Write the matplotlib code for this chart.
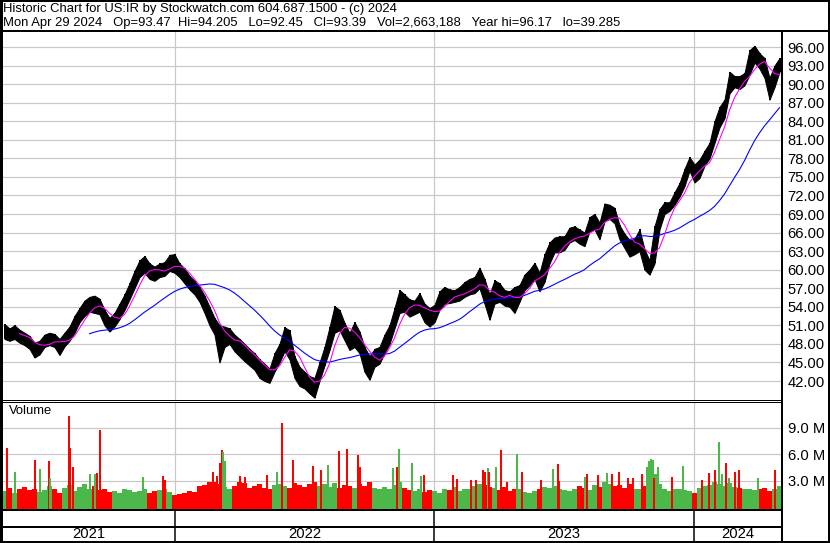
import numpy as np
import pandas as pd
import matplotlib
matplotlib.use('Agg')
import matplotlib.pyplot as plt
from matplotlib.lines import Line2D

plt.rcParams['font.family'] = ['Liberation Sans', 'DejaVu Sans']

W, H = 830, 543   # picture size in px

# weekly high / low of US:IR, Apr 2021 -> Apr 2024 (156 weeks)
hi = [
    51.2, 50.5, 51.0, 50.3, 49.8, 49.3, 48.2, 48.5, 49.5, 49.8,
    49.6, 48.8, 49.8, 50.8, 52.5, 53.8, 55.0, 55.6, 55.8, 55.3,
    53.5, 52.2, 53.0, 54.5, 56.0, 57.8, 59.8, 61.5, 62.2, 61.0,
    60.5, 61.0, 61.2, 62.4, 62.5, 61.0, 60.2, 59.0, 58.2, 57.2,
    55.8, 54.0, 52.2, 51.0, 50.8, 50.5, 49.5, 48.8, 48.0, 47.2,
    46.5, 45.5, 44.8, 44.0, 46.5, 48.0, 50.7, 50.2, 46.0, 44.3,
    43.5, 42.8, 42.5, 45.0, 47.5, 50.7, 54.1, 53.5, 51.4, 49.8,
    51.5, 50.0, 47.5, 46.0, 47.2, 47.5, 49.5, 51.0, 53.8, 56.7,
    56.0, 55.2, 55.0, 56.2, 54.5, 53.8, 54.3, 56.5, 57.2, 56.8,
    56.7, 57.2, 58.0, 58.5, 58.8, 60.3, 58.5, 56.0, 58.3, 57.8,
    56.7, 56.5, 57.2, 57.5, 59.2, 60.0, 61.1, 59.5, 62.5, 64.4,
    65.2, 65.4, 65.4, 66.8, 67.0, 66.5, 66.0, 68.5, 69.0, 67.6,
    70.7, 70.5, 70.0, 67.2, 65.8, 64.8, 65.0, 66.5, 63.3, 61.5,
    67.0, 69.8, 70.9, 70.9, 72.5, 74.0, 76.3, 78.2, 77.0, 77.8,
    79.2, 80.5, 84.0, 86.3, 87.5, 92.0, 91.3, 91.3, 91.8, 95.5,
    96.2, 95.0, 94.2, 91.0, 93.0, 94.2]
lo = [
    48.8, 48.5, 48.8, 48.2, 47.8, 47.2, 45.8, 46.3, 47.5, 47.8,
    47.5, 46.2, 47.6, 48.5, 49.8, 51.5, 52.5, 53.2, 53.0, 52.8,
    51.0, 50.0, 50.8, 52.0, 53.5, 55.2, 57.0, 58.8, 59.5, 58.5,
    58.2, 58.8, 59.0, 59.8, 59.5, 58.8, 57.8, 56.8, 56.0, 54.8,
    53.0, 51.0, 49.5, 45.0, 47.5, 48.0, 46.8, 46.0, 45.2, 44.5,
    43.8, 42.5, 42.0, 41.7, 43.5, 45.0, 46.8, 45.5, 42.5, 41.2,
    40.8, 40.0, 39.3, 42.0, 44.5, 47.0, 49.8, 50.2, 48.6, 47.0,
    47.5, 46.5, 43.5, 42.2, 44.3, 44.8, 46.5, 48.0, 50.5, 53.0,
    53.2, 52.4, 52.8, 53.2, 51.5, 50.8, 51.5, 53.5, 54.5, 54.6,
    54.8, 55.0, 55.6, 56.0, 56.2, 57.0, 54.5, 51.9, 54.5, 54.8,
    54.2, 54.0, 53.0, 54.8, 56.7, 57.5, 58.5, 56.5, 58.0, 61.0,
    62.8, 62.8, 63.2, 64.4, 64.8, 64.2, 63.8, 66.2, 66.5, 64.9,
    67.8, 68.2, 67.5, 64.9, 63.5, 62.1, 62.5, 63.0, 60.0, 59.2,
    61.0, 66.5, 69.0, 69.5, 70.5, 71.8, 73.5, 76.0, 74.1, 74.8,
    76.8, 78.0, 80.5, 83.0, 84.5, 88.5, 89.5, 89.2, 89.8, 91.5,
    93.5, 92.5, 91.0, 87.5, 89.5, 92.0]

# typical weekly volume (millions)
vol = [
    1.8, 2.2, 1.6, 2.0, 2.3, 1.9, 2.1,
    1.7, 1.9, 2.4, 2.0, 1.6, 2.2, 2.5,
    1.8, 2.3, 2.6, 2.1, 2.4, 1.9, 2.0,
    1.7, 1.8, 1.6, 2.0, 1.9, 1.7, 1.8,
    2.0, 1.6, 1.8, 1.9, 2.1, 1.7, 1.4,
    1.5, 1.6, 1.8, 1.7, 2.4, 2.5, 2.8,
    2.9, 2.6, 2.3, 2.1, 2.4, 2.8, 2.7,
    2.2, 2.4, 2.6, 2.2, 2.0, 2.5, 2.6,
    2.4, 2.2, 2.7, 2.5, 2.3, 2.6, 2.8,
    2.4, 2.6, 2.3, 2.7, 2.2, 2.5, 2.4,
    2.2, 2.6, 2.4, 2.8, 2.2, 2.0, 2.3,
    2.1, 2.5, 2.8, 2.2, 1.9, 1.8, 2.0,
    1.7, 1.9, 1.8, 1.6, 2.0, 1.9, 2.3,
    1.8, 2.0, 2.1, 2.4, 2.6, 2.5, 2.3,
    2.2, 1.9, 2.3, 1.8, 2.0, 2.1, 1.7,
    1.6, 1.8, 2.0, 2.3, 2.2, 2.4, 2.1,
    1.9, 1.8, 2.0, 2.4, 2.2, 1.9, 2.5,
    2.3, 2.8, 2.6, 2.4, 2.5, 2.2, 2.6,
    2.1, 2.0, 2.4, 3.5, 3.8, 2.6, 2.0,
    1.8, 2.1, 2.0, 1.9, 1.8, 1.6, 2.2,
    2.4, 2.5, 2.8, 2.6, 2.4, 2.7, 2.3,
    2.2, 2.0, 2.1, 1.9, 2.0, 2.2, 1.8, 2.1, 2.4]

# single heavy days: trading-day index, volume (M), colour code (u=up, d=down)
spike_day = [5, 13, 33, 38, 47, 48, 67, 68, 71, 88, 93, 95, 98, 141, 161, 163,
             211, 215, 218, 220, 221, 223, 238, 243, 265, 275, 280, 291, 311, 319,
             326, 337, 345, 356, 358, 391, 395, 397,
             410, 419, 422, 451, 455, 469, 474, 481, 483, 486, 487, 494, 499, 505,
             515, 520, 539, 551, 556, 557, 583, 585, 596, 605, 610, 617, 626, 631,
             640, 645, 647, 649, 651, 652, 656, 670, 681,
             700, 707, 713, 717, 720, 724, 727, 733, 737, 756, 773]
spike_vol = [6.7, 4.0, 5.3, 4.3, 5.2, 3.3, 10.3, 6.7, 4.6, 3.8, 3.8, 3.9, 8.8, 3.4, 3.5, 3.1,
             4.0, 3.5, 5.0, 6.5, 6.3, 5.2, 3.5, 3.4, 3.7, 4.0, 9.6, 5.3, 4.7, 4.2,
             4.8, 6.4, 6.6, 5.9, 4.5, 4.4, 4.6, 6.6,
             5.0, 3.5, 3.6, 3.6, 3.2, 3.1, 3.1, 4.2, 4.0, 4.4, 4.0, 4.5, 6.5, 2.9,
             6.0, 4.0, 3.1, 4.3, 4.9, 3.0, 3.4, 3.8, 3.6, 3.9, 3.8, 4.0, 3.3, 3.3,
             3.8, 4.6, 5.2, 5.5, 5.3, 3.3, 4.6, 3.4, 4.7,
             3.1, 3.9, 4.2, 7.4, 3.8, 5.0, 3.3, 4.0, 4.2, 3.3, 4.2]
spike_dir = 'dudududdduuddudd' + 'dddduudddudddduddddudu' + \
            'uudddddddududdudduddudduddddduuuudud' + 'uddduududdu'

price_ticks = np.arange(42, 97, 3)
vol_ticks = [3, 6, 9]
year_start_day = [173, 432, 692]
year_labels = ['2021', '2022', '2023', '2024']

title1 = 'Historic Chart for US:IR by Stockwatch.com 604.687.1500 - (c) 2024'
title2 = ('Mon Apr 29 2024   Op=93.47  Hi=94.205   Lo=92.45   Cl=93.39   '
          'Vol=2,663,188   Year hi=96.17   lo=39.285')

NDAYS = 780
day = np.arange(len(hi)) * 5 + 2.5      # week centres in trading days
hi = np.array(hi)
lo = np.array(lo)
mid = (hi + lo) / 2
ma_short = pd.Series(mid).rolling(4).mean()
ma_long = pd.Series(mid).rolling(20, min_periods=18).mean()

clr = {'u': '#4cb84c', 'd': '#ff0000', 'n': '#b4b4b4'}
wk_dir = ['u'] + ['u' if mid[i] >= mid[i - 1] else 'd' for i in range(1, len(mid))]

PX = 0.72  # one pixel in points
fig = plt.figure(figsize=(W / 100, H / 100), dpi=100)


def box(l, t, r, b):
    return [l / W, 1 - b / H, (r - l) / W, (b - t) / H]


def hline(y, x0, x1, w):
    fig.add_artist(Line2D([x0 / W, x1 / W], [1 - y / H, 1 - y / H], color='black',
                          lw=w * PX, transform=fig.transFigure, solid_capstyle='butt'))


def vline(x, y0, y1, w):
    fig.add_artist(Line2D([x / W, x / W], [1 - y0 / H, 1 - y1 / H], color='black',
                          lw=w * PX, transform=fig.transFigure, solid_capstyle='butt'))


grid_c = '#c8c8c8'
fs = 9.4      # header text
fs_t = 10.6   # axis labels

# ---- price panel
ax = fig.add_axes(box(2, 31, 782, 400))
ax.set_xlim(0, NDAYS)
ax.set_ylim(38.93, 98.59)
for yv in price_ticks:
    ax.axhline(yv, color=grid_c, lw=1.2 * PX, zorder=0)
for d in year_start_day:
    ax.axvline(d, color=grid_c, lw=1.2 * PX, zorder=0)
ax.fill_between(day, lo, hi, color='black', lw=1.0 * PX, edgecolor='black', zorder=2)
ax.vlines(day, lo, hi, color='black', lw=2.0 * PX, zorder=2)
ax.plot(day, ma_long, color='#0000ff', lw=1.1 * PX, zorder=3)
ax.plot(day, ma_short, color='#ff00ff', lw=1.1 * PX, zorder=3)
ax.yaxis.tick_right()
ax.set_yticks(price_ticks)
ax.set_yticklabels(['%.2f' % v for v in price_ticks])
ax.tick_params(axis='y', length=0, pad=4, labelsize=fs_t)
ax.set_xticks([])
for s in ax.spines.values():
    s.set_visible(False)
ax.text(7, 0.97, 'US:IR', transform=ax.get_yaxis_transform(), fontsize=fs, va='center')

# ---- volume panel
axv = fig.add_axes(box(2, 402, 782, 509))
axv.set_xlim(0, NDAYS)
axv.set_ylim(-0.22, 11.94)
for yv in vol_ticks:
    axv.axhline(yv, color=grid_c, lw=1.2 * PX, zorder=0)
for d in year_start_day:
    axv.axvline(d, color=grid_c, lw=1.2 * PX, zorder=0)
axv.bar(day, np.array(vol) + 0.22, bottom=-0.22, width=5,
        color=[clr[c] for c in wk_dir], zorder=2)
axv.bar(spike_day, np.array(spike_vol) + 0.22, bottom=-0.22, width=1.3,
        color=[clr[c] for c in spike_dir], zorder=3)
axv.yaxis.tick_right()
axv.set_yticks(vol_ticks)
axv.set_yticklabels(['%.1f M' % v for v in vol_ticks])
axv.tick_params(axis='y', length=0, pad=4, labelsize=fs_t)
axv.set_xticks([])
for s in axv.spines.values():
    s.set_visible(False)
axv.text(7, 10.9, 'Volume', fontsize=fs, va='center')

# ---- year band
axy = fig.add_axes(box(2, 509, 782, 541))
axy.set_xlim(0, NDAYS)
axy.set_ylim(0, 1)
axy.axis('off')
bounds = [0] + year_start_day + [NDAYS]
for i, lab in enumerate(year_labels):
    axy.text((bounds[i] + bounds[i + 1]) / 2, 0.22, lab, ha='center', va='center', fontsize=fs_t)

# ---- header and frame lines
fig.text(3 / W, 1 - 9 / H, title1, fontsize=fs, va='center')
fig.text(3 / W, 1 - 23 / H, title2, fontsize=fs, va='center')
hline(0.5, 0, W, 2)
hline(541.5, 0, W, 2)
hline(30.5, 0, W, 2)
hline(400, 0, 782, 1)
hline(402, 0, 782, 1)
hline(509.5, 0, 782, 2)
hline(527, 0, 782, 2)
vline(1, 0, H, 3)
vline(828.5, 0, H, 2)
vline(782, 30, 542, 2)
for d in year_start_day:
    vline(2 + d, 509, 542, 1.5)

fig.savefig('out.png', dpi=100)
